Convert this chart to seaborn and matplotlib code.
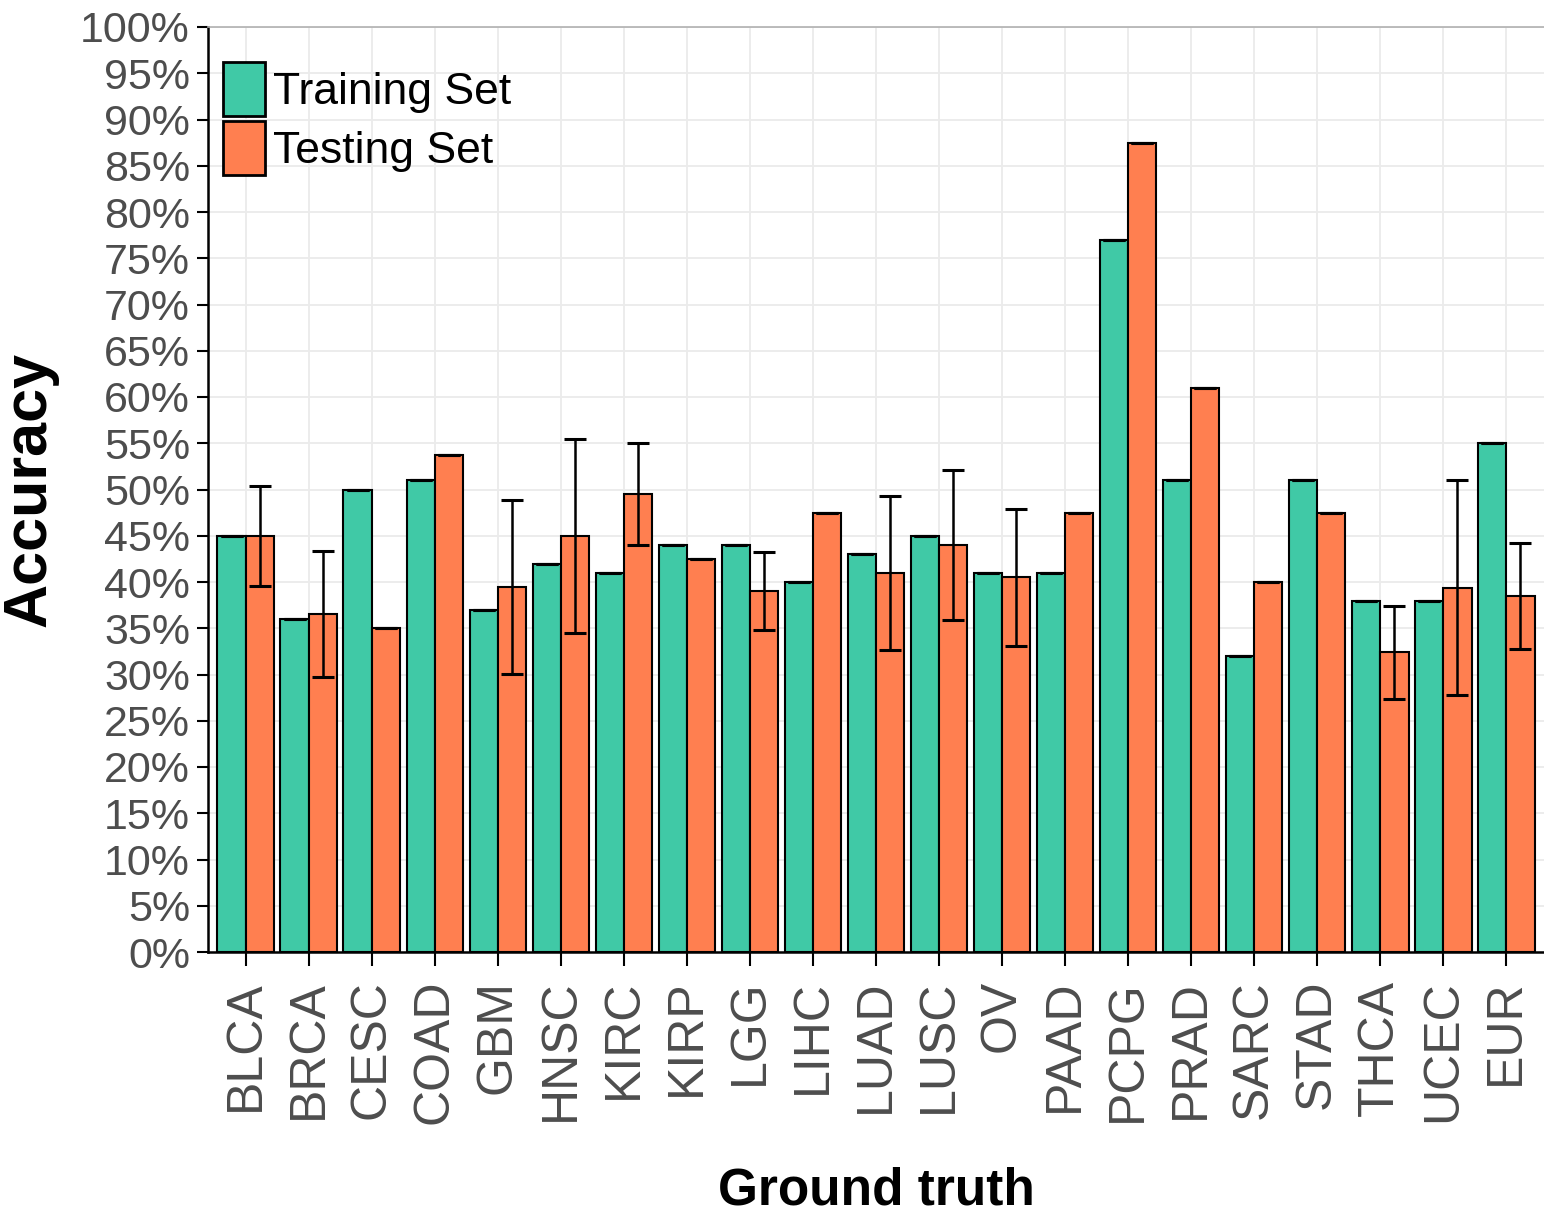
import seaborn as sns
import matplotlib.pyplot as plt
import pandas as pd
import numpy as np
from matplotlib.ticker import PercentFormatter, MultipleLocator

# values (percent)
groups = ['BLCA', 'BRCA', 'CESC', 'COAD', 'GBM', 'HNSC', 'KIRC', 'KIRP', 'LGG', 'LIHC', 'LUAD',
          'LUSC', 'OV', 'PAAD', 'PCPG', 'PRAD', 'SARC', 'STAD', 'THCA', 'UCEC', 'EUR']
train_acc = [45, 36, 50, 51, 37, 42, 41, 44, 44, 40, 43, 45, 41, 41, 77, 51, 32, 51, 38, 38, 55]
test_acc = [45, 36.5, 35, 53.7, 39.5, 45, 49.5, 42.5, 39, 47.5, 41, 44, 40.5, 47.5, 87.5, 61,
            40, 47.5, 32.4, 39.4, 38.5]
test_err = [5.4, 6.8, 0, 0, 9.4, 10.5, 5.5, 0, 4.2, 0, 8.3, 8.1, 7.4, 0, 0, 0, 0, 0, 5.0, 11.6, 5.7]
sets = ['Training Set', 'Testing Set']
colors = ['#40C9A6', '#FF7F50']

df = pd.DataFrame({
	'group': groups * 2,
	'acc': train_acc + test_acc,
	'set': [sets[0]] * len(groups) + [sets[1]] * len(groups),
})

sns.set_style('whitegrid')
plt.rcParams['font.family'] = ['Liberation Sans', 'DejaVu Sans']

fig = plt.figure(figsize=(15.44, 12.17), dpi=100)
ax = fig.add_axes([208 / 1544, 1 - 952 / 1217, (1544 - 208) / 1544, (952 - 27) / 1217])

sns.barplot(data=df, x='group', y='acc', hue='set', hue_order=sets, palette=colors,
			order=groups, width=0.9, errorbar=None, edgecolor='black', linewidth=1.5,
			saturation=1, ax=ax, zorder=2)

# error bars (training has none, caps sit on the bar tops)
errs = [np.zeros(len(groups)), np.array(test_err)]
for cont, vals, e in zip(ax.containers, [train_acc, test_acc], errs):
	xs = [p.get_x() + p.get_width() / 2 for p in cont.patches]
	ax.errorbar(xs, vals, yerr=e, fmt='none', ecolor='black', elinewidth=1.8,
				capsize=8, capthick=2.2, zorder=3)

ax.set_xlim(-0.6, len(groups) - 0.4)
ax.set_ylim(0, 100)
ax.yaxis.set_major_locator(MultipleLocator(5))
ax.yaxis.set_major_formatter(PercentFormatter(decimals=0))
ax.grid(True, color='#EBEBEB', linewidth=1.3)
ax.set_axisbelow(True)

for s in ['left', 'bottom']:
	ax.spines[s].set_color('black')
	ax.spines[s].set_linewidth(1.8)
ax.spines['top'].set_color('#B0B0B0')
ax.spines['top'].set_linewidth(1.2)
ax.spines['right'].set_visible(False)

ax.tick_params(axis='y', labelsize=31, colors='black', labelcolor='#4D4D4D',
			   length=8, width=1.5, direction='out', left=True, pad=5)
ax.tick_params(axis='x', labelsize=36, colors='black', labelcolor='#4D4D4D',
			   length=10, width=1.5, direction='out', bottom=True, pad=10)
for lab in ax.get_xticklabels():
	lab.set_rotation(90)

ax.set_ylabel('Accuracy', fontsize=44, fontweight='bold', color='black')
ax.set_xlabel('Ground truth', fontsize=37, fontweight='bold', color='black')
ax.yaxis.set_label_coords(-0.112, 0.5)
ax.xaxis.set_label_coords(0.5, -0.232)

handles, labels = ax.get_legend_handles_labels()
for h in handles:
	h.set_linewidth(2)
ax.legend(handles, labels, loc='upper left', bbox_to_anchor=(0.011, 0.962), frameon=False,
		  fontsize=32, handlelength=0.95, handleheight=1.5, labelspacing=0.1,
		  handletextpad=0.18, borderpad=0, borderaxespad=0, labelcolor='black')

plt.savefig('out.png', dpi=100)
